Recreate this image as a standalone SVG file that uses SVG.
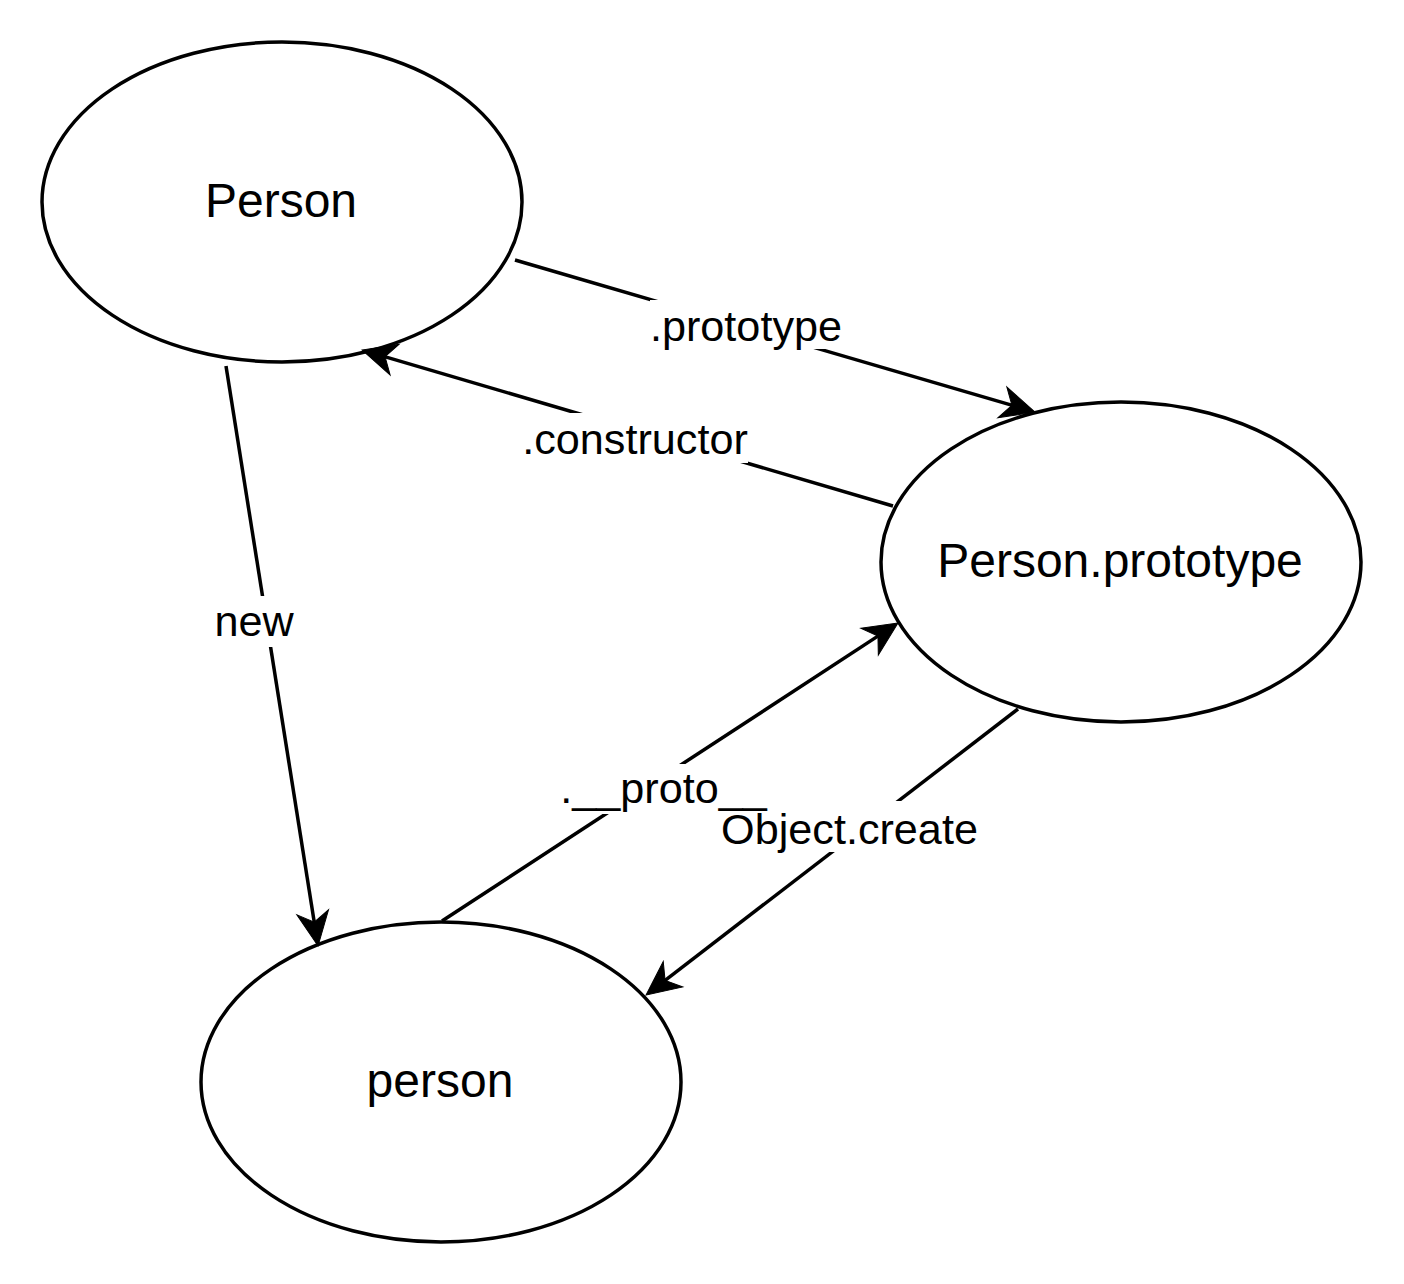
<svg xmlns="http://www.w3.org/2000/svg" width="1404" height="1284" viewBox="0 0 1404 1284">
  <style>
    .node { fill: #ffffff; stroke: #000000; stroke-width: 3.5; }
    .ntext { font-family: "Liberation Sans", Arial, Helvetica, sans-serif; font-size: 48px; fill: #000000; text-anchor: middle; }
    .edge { stroke: #000000; stroke-width: 3.5; fill: none; marker-end: url(#arrow); }
    .lbg { fill: #ffffff; stroke: none; }
    .ltext { font-family: "Liberation Sans", Arial, Helvetica, sans-serif; font-size: 43.2px; fill: #000000; text-anchor: middle; }
  </style>
  <defs>
    <marker id="arrow" markerUnits="userSpaceOnUse" viewBox="-18 -22 44 44" markerWidth="44" markerHeight="44" refX="0" refY="0" orient="auto" overflow="visible">
      <path d="M20,0 L-14,-16 L-4,0 L-14,16 Z" fill="#000000" stroke="#000000" stroke-width="1"/>
    </marker>
  </defs>
  <rect x="0" y="0" width="1404" height="1284" fill="#ffffff"/>

  <g id="node-Person">
    <ellipse class="node" cx="282" cy="202" rx="240" ry="160"/>
    <text class="ntext" x="281" y="217">Person</text>
  </g>
  <g id="node-PersonPrototype">
    <ellipse class="node" cx="1121" cy="562" rx="240" ry="160"/>
    <text class="ntext" x="1120" y="577">Person.prototype</text>
  </g>
  <g id="node-person">
    <ellipse class="node" cx="441" cy="1082" rx="240" ry="160"/>
    <text class="ntext" x="440" y="1097">person</text>
  </g>

  <g id="connectors">
    <line class="edge" x1="515" y1="260" x2="1015.8" y2="406.4"/>
    <line class="edge" x1="893" y1="506" x2="381.2" y2="355.6"/>
    <line class="edge" x1="226" y1="366" x2="314.9" y2="926.2"/>
    <line class="edge" x1="442" y1="921" x2="881.3" y2="633.9"/>
    <line class="edge" x1="1018" y1="709" x2="661.9" y2="982.8"/>

    <rect class="lbg" x="650" y="300" width="192" height="49"/>
    <rect class="lbg" x="522" y="413" width="226" height="50"/>
    <rect class="lbg" x="214" y="596" width="80" height="51"/>
    <rect class="lbg" x="721" y="801" width="257" height="51"/>
    <rect class="lbg" x="560" y="764" width="207" height="50"/>

    <text class="ltext" x="746" y="341">.prototype</text>
    <text class="ltext" x="635" y="454">.constructor</text>
    <text class="ltext" x="254" y="636">new</text>
    <text class="ltext" x="849.5" y="844">Object.create</text>
    <text class="ltext" x="663.5" y="803">.__proto__</text>
  </g>
</svg>
